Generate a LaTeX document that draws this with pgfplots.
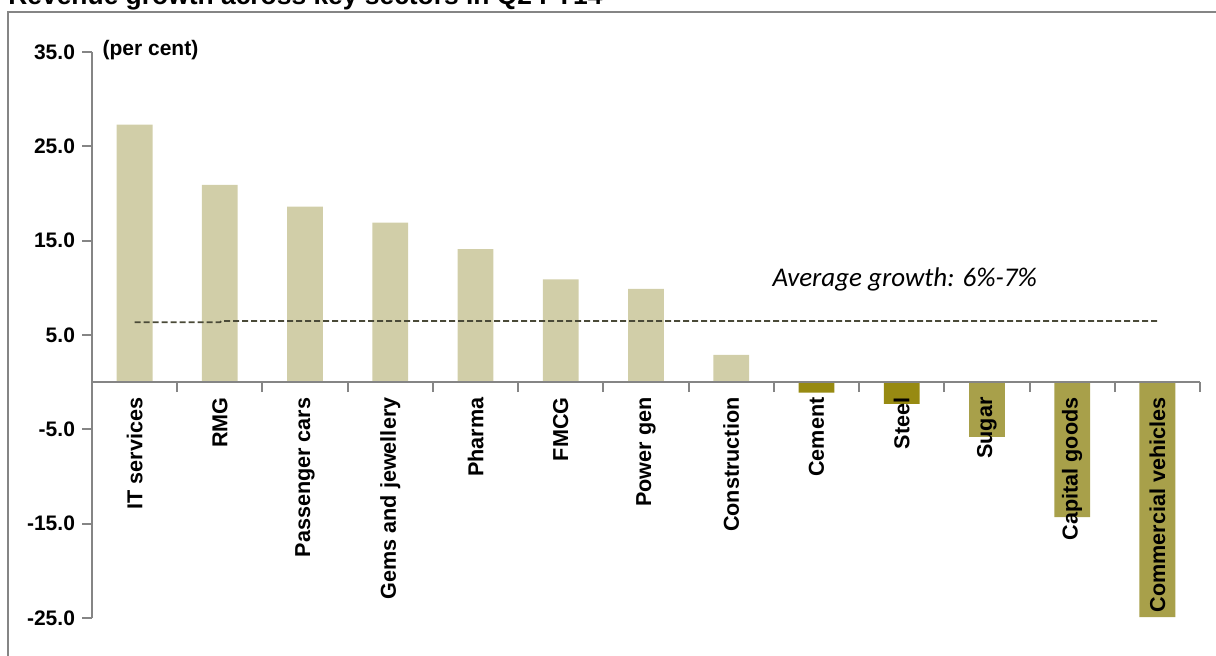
\documentclass[border=0pt]{standalone}
\usepackage{pgfplots}
\pgfplotsset{compat=1.18}
\usepackage{fontspec}
\setmainfont{Liberation Sans}
\newfontfamily\carlito{Carlito}
\definecolor{lightbar}{HTML}{D1CEA8}
\definecolor{darkbar}{HTML}{978A12}
\definecolor{midbar}{HTML}{A8A04A}
\definecolor{axgray}{HTML}{858585}
\definecolor{dashc}{HTML}{4A4A38}
\begin{document}
\begin{tikzpicture}
\useasboundingbox (0,0) rectangle (608pt,328pt);
\draw[axgray, line width=1pt] (4pt,-10pt) -- (4pt,322pt) -- (620pt,322pt);
\node[anchor=base west, inner sep=0pt, font=\bfseries\fontsize{13.2}{15}\selectfont] at (4pt,325.5pt) {Revenue growth across key sectors in Q2 FY14};
\begin{axis}[
  at={(46pt,19pt)}, anchor=south west,
  scale only axis, width=554pt, height=283pt,
  xmin=-0.5, xmax=12.5, ymin=-25, ymax=35,
  axis x line=middle, axis y line=left,
  axis on top,
  axis line style={axgray, line width=1pt, -},
  x axis line style={-},
  y axis line style={-},
  ytick={-25,-15,-5,5,15,25,35},
  yticklabel style={font=\bfseries\fontsize{10.5}{12}\selectfont, /pgf/number format/assume math mode=true},
  yticklabel={\pgfmathprintnumber[fixed,fixed zerofill,precision=1]{\tick}},
  xtick={0,...,12},
  xticklabels={IT services,RMG,Passenger cars,Gems and jewellery,Pharma,FMCG,Power gen,Construction,Cement,Steel,Sugar,Capital goods,Commercial vehicles},
  xticklabel style={rotate=90, anchor=east, font=\bfseries\fontsize{10.8}{12}\selectfont, inner sep=0pt, xshift=-2.5pt},
  minor xtick={-0.5,0.5,...,12.5},
  major x tick style={draw=none},
  minor x tick style={axgray, line width=1pt},
  minor tick length=5pt,
  y tick style={axgray, line width=1pt},
  major tick length=5pt,
  ytick align=outside,
  xtick align=outside,
  ybar, bar width=0.42, bar shift=0pt,
  clip=false,
]
\addplot[fill=lightbar, draw=none] coordinates {(0,27.3) (1,20.9) (2,18.6) (3,16.9) (4,14.1) (5,10.9) (6,9.9) (7,2.9)};
\addplot[fill=darkbar, draw=none] coordinates {(8,-1.1) (9,-2.3)};
\addplot[fill=midbar, draw=none] coordinates {(10,-5.8) (11,-14.3) (12,-24.9)};
\addplot[sharp plot, dashc, dashed, line width=0.9pt, dash pattern=on 3pt off 1.5pt] coordinates {(0,6.34) (1,6.34) (1.02,6.49) (12,6.49)};
\node[anchor=south west, inner sep=0pt, font=\carlito\itshape\fontsize{13.5}{15}\selectfont] at (axis cs:7.48,9.6) {Average growth: 6\%-7\%};
\node[anchor=base west, inner sep=0pt, font=\bfseries\fontsize{10.5}{12}\selectfont] at (axis cs:-0.38,34.6) {(per cent)};
\end{axis}
\end{tikzpicture}
\end{document}
